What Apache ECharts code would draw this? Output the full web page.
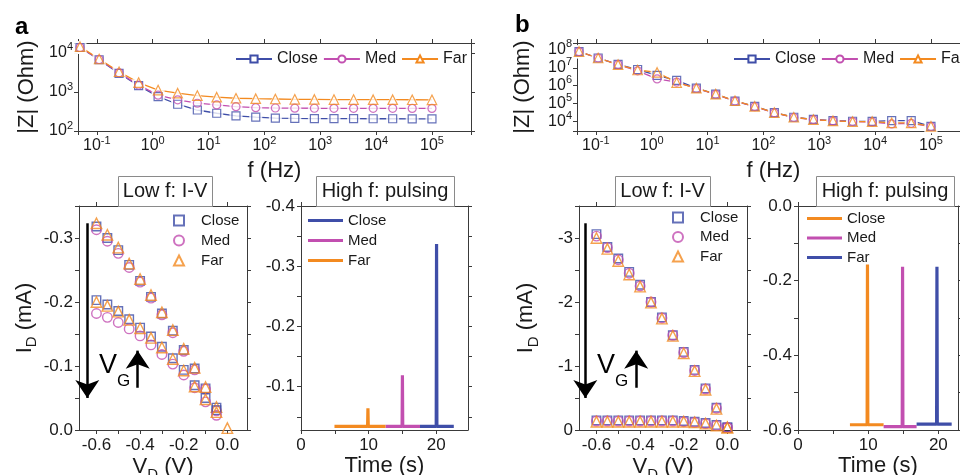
<!DOCTYPE html>
<html>
<head>
<meta charset="utf-8">
<script src="https://cdn.jsdelivr.net/npm/echarts@6/dist/echarts.min.js"></script>
<style>
  html, body { margin: 0; padding: 0; background: #fff; }
  #chart { width: 960px; height: 475px; }
</style>
</head>
<body>
<div id="chart"></div>
<script>
// ---- Impedance spectra (Hz, Ohm) ----
const freq = [0.05, 0.11, 0.25, 0.56, 1.25, 2.8, 6.3, 14, 31, 70, 157, 350, 785, 1760, 3950, 8850, 19800, 44300, 100000];
const zA_close = [13800, 6700, 3000, 1450, 760, 485, 345, 285, 243, 228, 215, 210, 208, 207, 207, 206, 206, 205, 205];
const zA_med   = [13800, 6800, 3100, 1500, 830, 630, 515, 465, 420, 396, 388, 385, 383, 382, 382, 381, 381, 380, 380];
const zA_far   = [14500, 7000, 3300, 1740, 1120, 930, 810, 735, 690, 672, 660, 650, 645, 640, 638, 636, 635, 632, 630];
const zB_close = [8e7, 3.5e7, 1.55e7, 8e6, 3.8e6, 2e6, 7.3e5, 3.4e5, 1.4e5, 7e4, 3.2e4, 1.75e4, 1.35e4, 1.15e4, 1.05e4, 1.02e4, 1.15e4, 1.15e4, 5.5e3];
const zB_med   = [8e7, 3.5e7, 1.5e7, 6.8e6, 2.4e6, 1.6e6, 7e5, 3.3e5, 1.4e5, 6.8e4, 3.1e4, 1.7e4, 1.3e4, 1.1e4, 1e4, 9.5e3, 7.4e3, 8e3, 5.3e3];
const zB_far   = [8e7, 3.5e7, 1.5e7, 7.5e6, 5.5e6, 1.5e6, 7.3e5, 3.4e5, 1.45e5, 7e4, 3.2e4, 1.75e4, 1.3e4, 1.1e4, 1e4, 1e4, 8.5e3, 8.5e3, 5.5e3];

// ---- Output curves: drain voltage (V) and drain current (mA) ----
const vd = [-0.6, -0.55, -0.5, -0.45, -0.4, -0.35, -0.3, -0.25, -0.2, -0.15, -0.1, -0.05, 0];
const idA_hi_close = [-0.318, -0.300, -0.281, -0.258, -0.233, -0.208, -0.182, -0.155, -0.125, -0.096, -0.065, -0.035];
const idA_hi_med   = [-0.313, -0.295, -0.276, -0.254, -0.231, -0.206, -0.180, -0.152, -0.123, -0.094, -0.064, -0.030];
const idA_hi_far   = [-0.323, -0.305, -0.285, -0.260, -0.236, -0.211, -0.184, -0.156, -0.127, -0.097, -0.067, -0.036, -0.003];
const idA_lo_close = [-0.203, -0.196, -0.186, -0.173, -0.160, -0.146, -0.130, -0.112, -0.094, -0.070, -0.050, -0.031];
const idA_lo_med   = [-0.182, -0.176, -0.168, -0.158, -0.147, -0.133, -0.118, -0.103, -0.086, -0.066, -0.044, -0.023];
const idA_lo_far   = [-0.200, -0.194, -0.185, -0.172, -0.159, -0.144, -0.129, -0.111, -0.093, -0.068, -0.048, -0.028];
const idB_hi_close = [-3.06, -2.86, -2.68, -2.47, -2.27, -2.00, -1.76, -1.48, -1.22, -0.94, -0.65, -0.35, -0.04];
const idB_hi_med   = [-3.03, -2.85, -2.66, -2.45, -2.25, -2.00, -1.75, -1.48, -1.21, -0.93, -0.64, -0.34, -0.04];
const idB_hi_far   = [-3.00, -2.83, -2.64, -2.43, -2.24, -1.99, -1.74, -1.47, -1.20, -0.92, -0.63, -0.33, -0.04];
const idB_lo_close = [-0.15, -0.15, -0.15, -0.15, -0.15, -0.15, -0.15, -0.15, -0.14, -0.13, -0.11, -0.08, -0.04];
const idB_lo_med   = [-0.14, -0.14, -0.14, -0.14, -0.14, -0.14, -0.14, -0.14, -0.13, -0.12, -0.10, -0.07, -0.04];
const idB_lo_far   = [-0.13, -0.13, -0.13, -0.13, -0.13, -0.13, -0.13, -0.13, -0.13, -0.12, -0.10, -0.07, -0.04];

// gate sweep direction arrows (V, mA)
const arrowA = { down: [-0.642, -0.323, -0.05], up: [-0.411, -0.066, -0.124] };
const arrowB = { down: [-0.651, -3.23, -0.50], up: [-0.418, -0.66, -1.24] };

// ---- Pulse responses: time (s) and drain current (mA) ----
const pA_close_t = [17.6, 20.0, 20.05, 20.1, 22.6];
const pA_close_i = [-0.034, -0.034, -0.337, -0.034, -0.034];
const pA_med_t   = [12.5, 14.95, 15.0, 15.05, 17.6];
const pA_med_i   = [-0.034, -0.034, -0.119, -0.034, -0.034];
const pA_far_t   = [4.95, 9.85, 9.9, 9.95, 12.5];
const pA_far_i   = [-0.034, -0.034, -0.064, -0.034, -0.034];
const pB_close_t = [7.4, 9.85, 9.9, 9.95, 12.2];
const pB_close_i = [-0.586, -0.586, -0.157, -0.586, -0.586];
const pB_med_t   = [12.2, 14.85, 14.9, 14.95, 16.9];
const pB_med_i   = [-0.591, -0.591, -0.163, -0.591, -0.591];
const pB_far_t   = [16.9, 19.75, 19.8, 19.85, 21.9];
const pB_far_i   = [-0.584, -0.584, -0.163, -0.584, -0.584];

// ---- tick positions ----
const vdTicks = [-0.6, -0.5, -0.4, -0.3, -0.2, -0.1, 0];
const vdLabels = [-0.6, -0.4, -0.2, 0];
const idATicks = [-0.35, -0.3, -0.25, -0.2, -0.15, -0.1, -0.05, 0];
const idALabels = [-0.3, -0.2, -0.1, 0];
const idBTicks = [-3.5, -3, -2.5, -2, -1.5, -1, -0.5, 0];
const idBLabels = [-3, -2, -1, 0];
const timeTicks = [0, 5, 10, 15, 20];
const timeLabels = [0, 10, 20];
const pATicks = [-0.4, -0.35, -0.3, -0.25, -0.2, -0.15, -0.1, -0.05];
const pALabels = [-0.4, -0.3, -0.2, -0.1];
const pBTicks = [-0.6, -0.5, -0.4, -0.3, -0.2, -0.1, 0];
const pBLabels = [-0.6, -0.4, -0.2, 0];

const FONT = "'Liberation Sans', Arial, Helvetica, sans-serif";
const BLUE = '#3f4ea8', MAG = '#c24fb0', ORG = '#f38a20', AX = '#3a3a3a', TXT = '#1a1a1a';

// plot areas keep their exact boxes; labels may run past the canvas edge
const gridBox = (left, top, width, height) => ({ left, top, width, height, outerBoundsMode: 'none', containLabel: false });
const grids = [
  gridBox(78, 43, 393, 88),    // a: |Z| spectrum
  gridBox(577, 43, 393, 88),   // b: |Z| spectrum
  gridBox(79, 206, 168, 224),  // a: I-V
  gridBox(301, 206, 167, 224), // a: pulsing
  gridBox(579, 206, 168, 224), // b: I-V
  gridBox(798, 206, 160, 224)  // b: pulsing
];

const powRich = {
  b: { fontSize: 16, fontFamily: FONT, color: TXT, lineHeight: 22 },
  e: { fontSize: 11, fontFamily: FONT, color: TXT, lineHeight: 11, verticalAlign: 'top' }
};
function powFmt(v) {
  const l = Math.log10(v), e = Math.round(l);
  if (Math.abs(l - e) > 1e-6) return '';
  return '{b|10}{e|' + e + '}';
}
const fix1 = v => Number(v).toFixed(1);
const plain = v => String(Math.round(v * 1000) / 1000);

const nameRich = {
  n: { fontSize: 22, fontFamily: FONT, color: TXT, lineHeight: 30 },
  s: { fontSize: 15, fontFamily: FONT, color: TXT, lineHeight: 15, verticalAlign: 'bottom' }
};

function makeAxis(dim, gridIndex, o, mirror) {
  const a = {
    gridIndex, type: o.type || 'value', min: o.min, max: o.max, inverse: !!o.inverse,
    position: mirror ? (dim === 'x' ? 'top' : 'right') : (dim === 'x' ? 'bottom' : 'left'),
    axisLine: { show: true, onZero: false, lineStyle: { color: AX, width: 1 } },
    axisTick: { show: true, inside: false, length: 4, lineStyle: { color: AX, width: 1 } },
    splitLine: { show: false },
    axisPointer: { show: false },
    axisLabel: {
      show: !mirror, color: TXT, fontFamily: FONT, fontSize: o.fontSize || 17,
      margin: o.margin == null ? 6 : o.margin, formatter: o.fmt, rich: o.rich
    }
  };
  if (o.type === 'log') a.logBase = 10;
  if (o.ticks) a.axisTick.customValues = o.ticks;
  if (o.labels) a.axisLabel.customValues = o.labels;
  if (!mirror && o.name) {
    a.name = o.name;
    a.nameLocation = 'middle';
    a.nameGap = o.nameGap;
    if (dim === 'y') a.nameRotate = 90;
    a.nameTextStyle = { fontSize: 22, fontFamily: FONT, color: TXT, rich: nameRich };
  }
  return a;
}

const xDefs = [
  { type: 'log', min: 0.046, max: 5e5, fmt: powFmt, rich: powRich, margin: 4, name: '{n|f (Hz)}', nameGap: 25 },
  { type: 'log', min: 0.046, max: 5e5, fmt: powFmt, rich: powRich, margin: 4, name: '{n|f (Hz)}', nameGap: 25 },
  { min: -0.68, max: 0.09, ticks: vdTicks, labels: vdLabels, fmt: fix1, margin: 7, name: '{n|V}{s|D}{n| (V)}', nameGap: 22 },
  { min: 0, max: 24.7, ticks: timeTicks, labels: timeLabels, fmt: plain, margin: 7, name: '{n|Time (s)}', nameGap: 20 },
  { min: -0.68, max: 0.09, ticks: vdTicks, labels: vdLabels, fmt: fix1, margin: 7, name: '{n|V}{s|D}{n| (V)}', nameGap: 22 },
  { min: 0, max: 22.8, ticks: timeTicks, labels: timeLabels, fmt: plain, margin: 7, name: '{n|Time (s)}', nameGap: 20 }
];
const yDefs = [
  { type: 'log', min: 100, max: 18000, fmt: powFmt, rich: powRich, margin: 5, name: '{n||Z| (Ohm)}', nameGap: 36 },
  { type: 'log', min: 3000, max: 2.4e8, fmt: powFmt, rich: powRich, margin: 5, name: '{n||Z| (Ohm)}', nameGap: 39 },
  { min: -0.35, max: 0, inverse: true, ticks: idATicks, labels: idALabels, fmt: fix1, name: '{n|I}{s|D}{n| (mA)}', nameGap: 38 },
  { min: -0.4, max: -0.028, inverse: true, ticks: pATicks, labels: pALabels, fmt: fix1 },
  { min: -3.5, max: 0, inverse: true, ticks: idBTicks, labels: idBLabels, fmt: plain, name: '{n|I}{s|D}{n| (mA)}', nameGap: 38 },
  { min: -0.6, max: 0, ticks: pBTicks, labels: pBLabels, fmt: fix1 }
];

const xAxis = [], yAxis = [];
xDefs.forEach((o, g) => { xAxis.push(makeAxis('x', g, o, false)); xAxis.push(makeAxis('x', g, o, true)); });
yDefs.forEach((o, g) => { yAxis.push(makeAxis('y', g, o, false)); yAxis.push(makeAxis('y', g, o, true)); });

const pairs = (xs, ys) => ys.map((y, i) => [xs[i], y]);

// spectrum curve: connecting line (carries the legend entry), a white halo that
// opens a small gap in the line around every marker, then the hollow marker
function zCurve(name, ys, color, symbol, g) {
  const data = pairs(freq, ys);
  const ax = { xAxisIndex: 2 * g, yAxisIndex: 2 * g };
  const size = symbol === 'triangle' ? 9.5 : 8;
  return [
    Object.assign({
      type: 'line', name, data, symbol, symbolSize: size, showSymbol: false, z: 2,
      lineStyle: { color, width: 1.3 },
      itemStyle: { color: '#fff', borderColor: color, borderWidth: 1.2 }
    }, ax),
    Object.assign({
      type: 'scatter', name: name + ':halo', data, symbol, symbolSize: size + 5, z: 3, silent: true,
      itemStyle: { color: '#fff', borderWidth: 0 }
    }, ax),
    Object.assign({
      type: 'scatter', name: name + ':mark', data, symbol, symbolSize: size, z: 4, silent: true,
      itemStyle: { color: 'rgba(255,255,255,0)', borderColor: color, borderWidth: 1.2 }
    }, ax)
  ];
}
function ivDots(name, ys, color, symbol, size, g, extra) {
  return Object.assign({
    type: 'scatter', name, xAxisIndex: 2 * g, yAxisIndex: 2 * g, data: pairs(vd, ys),
    symbol, symbolSize: size, z: 3,
    itemStyle: { color: 'rgba(255,255,255,0)', borderColor: color, borderWidth: 1.4 }
  }, extra || {});
}
function pulse(name, ts, is, color, g) {
  return {
    type: 'line', name, xAxisIndex: 2 * g, yAxisIndex: 2 * g, data: pairs(ts, is),
    symbol: 'none', z: 3, lineStyle: { color, width: 3.2 }, itemStyle: { color }
  };
}
function arrows(a) {
  return {
    silent: true, symbol: ['none', 'arrow'], symbolSize: 18, animation: false,
    lineStyle: { color: '#000', width: 2.5, type: 'solid' }, label: { show: false },
    emphasis: { disabled: true },
    data: [
      [{ coord: [a.down[0], a.down[1]] }, { coord: [a.down[0], a.down[2]] }],
      [{ coord: [a.up[0], a.up[1]] }, { coord: [a.up[0], a.up[2]] }]
    ]
  };
}

const series = [
  ...zCurve('aZ:Close', zA_close, BLUE, 'rect', 0),
  ...zCurve('aZ:Med', zA_med, MAG, 'circle', 0),
  ...zCurve('aZ:Far', zA_far, ORG, 'triangle', 0),
  ...zCurve('bZ:Close', zB_close, BLUE, 'rect', 1),
  ...zCurve('bZ:Med', zB_med, MAG, 'circle', 1),
  ...zCurve('bZ:Far', zB_far, ORG, 'triangle', 1),

  ivDots('aIV:Close', idA_hi_close, BLUE, 'rect', 8.5, 2, { markLine: arrows(arrowA) }),
  ivDots('aIV:Med', idA_hi_med, MAG, 'circle', 9.5, 2),
  ivDots('aIV:Far', idA_hi_far, ORG, 'triangle', 10.5, 2),
  ivDots('aIV:Close', idA_lo_close, BLUE, 'rect', 8.5, 2),
  ivDots('aIV:Med', idA_lo_med, MAG, 'circle', 9.5, 2),
  ivDots('aIV:Far', idA_lo_far, ORG, 'triangle', 10.5, 2),

  ivDots('bIV:Close', idB_hi_close, BLUE, 'rect', 8.5, 4, { markLine: arrows(arrowB) }),
  ivDots('bIV:Med', idB_hi_med, MAG, 'circle', 9.5, 4),
  ivDots('bIV:Far', idB_hi_far, ORG, 'triangle', 10.5, 4),
  ivDots('bIV:Close', idB_lo_close, BLUE, 'rect', 8.5, 4),
  ivDots('bIV:Med', idB_lo_med, MAG, 'circle', 9.5, 4),
  ivDots('bIV:Far', idB_lo_far, ORG, 'triangle', 10.5, 4),

  pulse('aP:Close', pA_close_t, pA_close_i, BLUE, 3),
  pulse('aP:Med', pA_med_t, pA_med_i, MAG, 3),
  pulse('aP:Far', pA_far_t, pA_far_i, ORG, 3),
  pulse('bP:Close', pB_close_t, pB_close_i, ORG, 5),
  pulse('bP:Med', pB_med_t, pB_med_i, MAG, 5),
  pulse('bP:Far', pB_far_t, pB_far_i, BLUE, 5)
];

const legendText = { fontSize: 15, fontFamily: FONT, color: TXT, lineHeight: 15 };
const stripKey = n => n.split(':')[1];
function legend(prefix, o) {
  return Object.assign({
    data: ['Close', 'Med', 'Far'].map(k => prefix + ':' + k),
    formatter: stripKey, selectedMode: false, padding: 0,
    textStyle: legendText, inactiveColor: '#ccc'
  }, o);
}
const zText = Object.assign({}, legendText, { fontSize: 16 });
const ivText = Object.assign({}, legendText, { padding: [0, 0, 0, 12] });

const legends = [
  legend('aZ', { left: 235, top: 51, width: 330, itemWidth: 36, itemHeight: 9, itemGap: 5, textStyle: zText }),
  legend('bZ', { left: 733, top: 51, width: 330, itemWidth: 36, itemHeight: 9, itemGap: 5, textStyle: zText }),
  legend('aIV', { orient: 'vertical', left: 173, top: 213, itemWidth: 10, itemHeight: 10, itemGap: 5, textStyle: ivText }),
  legend('bIV', { orient: 'vertical', left: 672, top: 210, itemWidth: 10, itemHeight: 10, itemGap: 4.5, textStyle: ivText }),
  legend('aP', { orient: 'vertical', left: 308, top: 213, icon: 'rect', itemWidth: 35, itemHeight: 3, itemGap: 5 }),
  legend('bP', { orient: 'vertical', left: 807, top: 211, icon: 'rect', itemWidth: 35, itemHeight: 3, itemGap: 4.5 })
];

function box(x, w, text) {
  return [
    { type: 'rect', shape: { x: x + 0.5, y: 176.5, width: w, height: 30 }, style: { fill: '#fff', stroke: '#8a8a8a', lineWidth: 1 }, z: 1 },
    { type: 'text', x: x + w / 2, y: 191.5, style: { text, font: '20px ' + FONT, fill: TXT, align: 'center', verticalAlign: 'middle' }, z: 2 }
  ];
}
function vg(x) {
  return [
    { type: 'text', x: x, y: 366, style: { text: 'V', font: '27px ' + FONT, fill: '#000', align: 'left', verticalAlign: 'middle' }, z: 5 },
    { type: 'text', x: x + 18, y: 381, style: { text: 'G', font: '17px ' + FONT, fill: '#000', align: 'left', verticalAlign: 'middle' }, z: 5 }
  ];
}

const graphic = [
  { type: 'text', x: 15, y: 27, style: { text: 'a', font: 'bold 24px ' + FONT, fill: '#000', verticalAlign: 'middle' } },
  { type: 'text', x: 515, y: 25, style: { text: 'b', font: 'bold 24px ' + FONT, fill: '#000', verticalAlign: 'middle' } },
  ...box(118, 94, 'Low f: I-V'),
  ...box(316, 138, 'High f: pulsing'),
  ...box(615, 95, 'Low f: I-V'),
  ...box(816, 138, 'High f: pulsing'),
  ...vg(99),
  ...vg(597)
];

const chart = echarts.init(document.getElementById('chart'), null, { renderer: 'canvas' });
chart.setOption({
  animation: false,
  backgroundColor: '#fff',
  textStyle: { fontFamily: FONT },
  grid: grids,
  xAxis, yAxis, series,
  legend: legends,
  graphic
});
</script>
</body>
</html>
